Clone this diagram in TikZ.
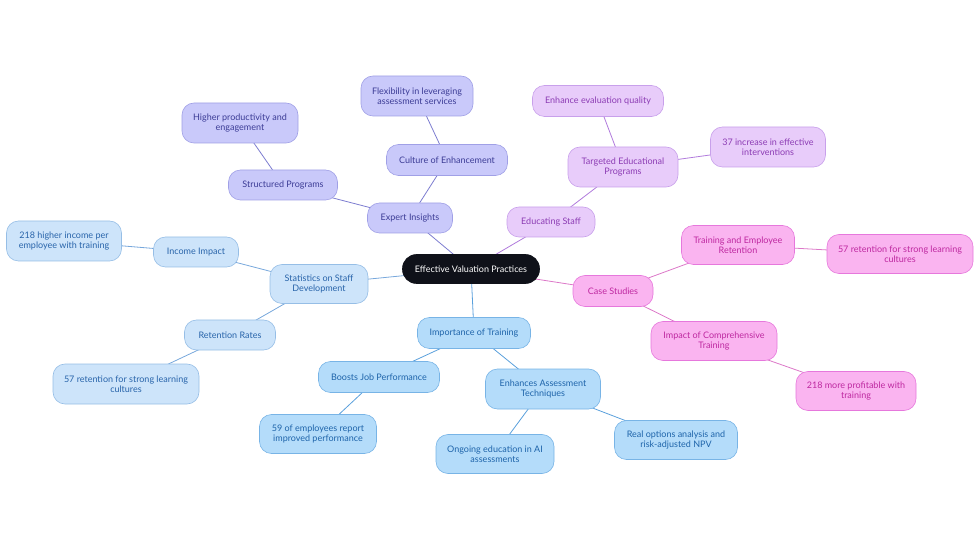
\documentclass[tikz,border=0pt]{standalone}
\usepackage{fontspec}
\setmainfont{Lato}
\usetikzlibrary{backgrounds}
\definecolor{rootfill}{HTML}{0F1119}
\definecolor{pAfill}{HTML}{C9C9FA}\definecolor{pAdraw}{HTML}{A0A0E6}\definecolor{pAtext}{HTML}{3C3C96}\definecolor{pAline}{HTML}{7C7CD0}
\definecolor{pBfill}{HTML}{E8CCFA}\definecolor{pBdraw}{HTML}{C8A0EB}\definecolor{pBtext}{HTML}{8C3CB4}\definecolor{pBline}{HTML}{B07ADC}
\definecolor{pCfill}{HTML}{FAB4F0}\definecolor{pCdraw}{HTML}{E678DC}\definecolor{pCtext}{HTML}{BE28A0}\definecolor{pCline}{HTML}{DC78C8}
\definecolor{pDfill}{HTML}{B4DCFA}\definecolor{pDdraw}{HTML}{78B4E6}\definecolor{pDtext}{HTML}{1E64AA}\definecolor{pDline}{HTML}{5AA0DC}
\definecolor{pEfill}{HTML}{CDE4FA}\definecolor{pEdraw}{HTML}{96BEE6}\definecolor{pEtext}{HTML}{2864AA}\definecolor{pEline}{HTML}{78A8DC}
\tikzset{
  box/.style={rounded corners=12pt, draw, line width=0.6pt, align=center, inner sep=0pt, font=\fontsize{9}{9.8}\selectfont},
  rootbox/.style={box, fill=rootfill, draw=rootfill, text=white},
  gA/.style={box, fill=pAfill, draw=pAdraw, text=pAtext},
  gB/.style={box, fill=pBfill, draw=pBdraw, text=pBtext},
  gC/.style={box, fill=pCfill, draw=pCdraw, text=pCtext},
  gD/.style={box, fill=pDfill, draw=pDdraw, text=pDtext},
  gE/.style={box, fill=pEfill, draw=pEdraw, text=pEtext},
  sz/.style 2 args={minimum width=#1pt, minimum height=#2pt},
  lA/.style={draw=pAline, line width=0.8pt},
  lB/.style={draw=pBline, line width=0.8pt},
  lC/.style={draw=pCline, line width=0.8pt},
  lD/.style={draw=pDline, line width=0.8pt},
  lE/.style={draw=pEline, line width=0.8pt},
}
\begin{document}
\begin{tikzpicture}[x=1pt,y=-1pt]
\useasboundingbox (0,0) rectangle (980,553);
% root
\node[rootbox, sz={137}{29}, rounded corners=14pt] (root) at (471,269) {Effective Valuation Practices};
% group A
\node[gA, sz={85}{30}] (ei) at (410,218) {Expert Insights};
\node[gA, sz={109}{30}] (sp) at (283,185) {Structured Programs};
\node[gA, sz={116}{40}] (hp) at (240,123) {Higher productivity and\\engagement};
\node[gA, sz={121}{31}] (ce) at (447,160) {Culture of Enhancement};
\node[gA, sz={112}{40}] (fl) at (417,96) {Flexibility in leveraging\\assessment services};
% group B
\node[gB, sz={88}{30}] (es) at (551,222) {Educating Staff};
\node[gB, sz={110}{40}] (te) at (623,167) {Targeted Educational\\Programs};
\node[gB, sz={131}{31}] (eq) at (598,101) {Enhance evaluation quality};
\node[gB, sz={115}{40}] (ie) at (768,147) {37 increase in effective\\interventions};
% group C
\node[gC, sz={80}{31}] (cs) at (613,291) {Case Studies};
\node[gC, sz={113}{39}] (tr) at (738,245) {Training and Employee\\Retention};
\node[gC, sz={146}{39}] (rr) at (900,254) {57 retention for strong learning\\cultures};
\node[gC, sz={126}{39}] (ic) at (714,341) {Impact of Comprehensive\\Training};
\node[gC, sz={120}{39}] (mp) at (856,391) {218 more profitable with\\training};
% group D
\node[gD, sz={113}{31}] (it) at (474,333) {Importance of Training};
\node[gD, sz={121}{31}] (bj) at (379,377) {Boosts Job Performance};
\node[gD, sz={117}{39}] (ep) at (318,434) {59 of employees report\\improved performance};
\node[gD, sz={115}{40}] (ea) at (543,389) {Enhances Assessment\\Techniques};
\node[gD, sz={118}{39}] (oe) at (495,454) {Ongoing education in AI\\assessments};
\node[gD, sz={123}{39}] (ro) at (676,440) {Real options analysis and\\risk-adjusted NPV};
% group E
\node[gE, sz={98}{39}] (st) at (319,284) {Statistics on Staff\\Development};
\node[gE, sz={85}{30}] (ii) at (196,252) {Income Impact};
\node[gE, sz={115}{40}] (hi) at (64,241) {218 higher income per\\employee with training};
\node[gE, sz={91}{30}] (rt) at (230,335) {Retention Rates};
\node[gE, sz={146}{40}] (rl) at (126,384) {57 retention for strong learning\\cultures};
\begin{pgfonlayer}{background}
\draw[lA] (root.center) -- (ei.center);
\draw[lA] (ei.center) -- (sp.center);
\draw[lA] (sp.center) -- (hp.center);
\draw[lA] (ei.center) -- (ce.center);
\draw[lA] (ce.center) -- (fl.center);
\draw[lB] (root.center) -- (es.center);
\draw[lB] (es.center) -- (te.center);
\draw[lB] (te.center) -- (eq.center);
\draw[lB] (te.center) -- (ie.center);
\draw[lC] (root.center) -- (cs.center);
\draw[lC] (cs.center) -- (tr.center);
\draw[lC] (tr.center) -- (rr.center);
\draw[lC] (cs.center) -- (ic.center);
\draw[lC] (ic.center) -- (mp.center);
\draw[lD] (root.center) -- (it.center);
\draw[lD] (it.center) -- (bj.center);
\draw[lD] (bj.center) -- (ep.center);
\draw[lD] (it.center) -- (ea.center);
\draw[lD] (ea.center) -- (oe.center);
\draw[lD] (ea.center) -- (ro.center);
\draw[lE] (root.center) -- (st.center);
\draw[lE] (st.center) -- (ii.center);
\draw[lE] (ii.center) -- (hi.center);
\draw[lE] (st.center) -- (rt.center);
\draw[lE] (rt.center) -- (rl.center);
\end{pgfonlayer}
\end{tikzpicture}
\end{document}
